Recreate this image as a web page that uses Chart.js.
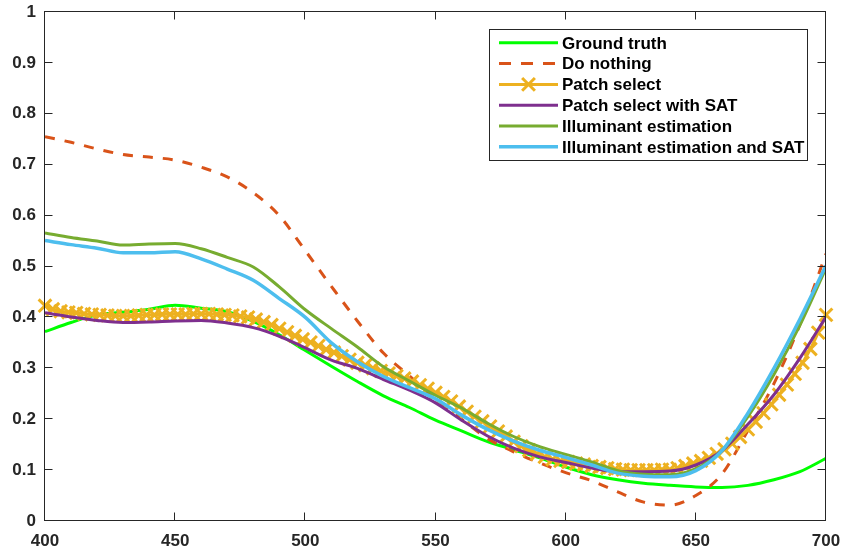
<!DOCTYPE html>
<html>
<head>
<meta charset="utf-8">
<script src="https://cdn.jsdelivr.net/npm/chart.js@4"></script>
<style>
html,body{margin:0;padding:0;background:#fff;}
#wrap{width:845px;height:555px;position:relative;}
</style>
</head>
<body>
<div id="wrap"><canvas id="c" width="845" height="555"></canvas></div>
<script>
// ---- data ----
const wavelengths = [400,410,420,430,440,450,460,470,480,490,500,510,520,530,540,550,560,570,580,590,600,610,620,630,640,650,660,670,680,690,700];
const patchWavelengths = [400,403,406,409,412,415,418,421,424,427,430,433,436,439,442,445,448,451,454,457,460,463,466,469,472,475,478,481,484,487,490,493,496,499,502,505,508,511,514,517,520,523,526,529,532,535,538,541,544,547,550,553,556,559,562,565,568,571,574,577,580,583,586,589,592,595,598,601,604,607,610,613,616,619,622,625,628,631,634,637,640,643,646,649,652,655,658,661,664,667,670,673,676,679,682,685,688,691,694,697,700];

const groundTruth = [0.372,0.390,0.405,0.410,0.416,0.424,0.418,0.411,0.392,0.366,0.335,0.304,0.274,0.246,0.223,0.198,0.177,0.156,0.140,0.124,0.106,0.091,0.081,0.074,0.070,0.067,0.066,0.070,0.081,0.097,0.123];
const doNothing = [0.755,0.744,0.731,0.720,0.715,0.709,0.695,0.676,0.645,0.600,0.531,0.461,0.393,0.330,0.285,0.240,0.200,0.162,0.136,0.114,0.095,0.079,0.057,0.037,0.031,0.050,0.092,0.178,0.270,0.386,0.525];
const patchSelect = [0.423,0.416,0.412,0.410,0.409,0.407,0.406,0.405,0.404,0.403,0.403,0.403,0.404,0.405,0.405,0.406,0.406,0.406,0.406,0.407,0.407,0.407,0.406,0.405,0.404,0.402,0.400,0.396,0.391,0.385,0.378,0.371,0.364,0.357,0.351,0.344,0.337,0.331,0.324,0.317,0.311,0.306,0.300,0.295,0.290,0.285,0.280,0.274,0.267,0.260,0.252,0.244,0.235,0.225,0.215,0.205,0.196,0.186,0.176,0.166,0.156,0.147,0.139,0.132,0.126,0.121,0.118,0.116,0.113,0.111,0.108,0.106,0.104,0.102,0.101,0.100,0.100,0.100,0.100,0.101,0.101,0.104,0.108,0.113,0.118,0.124,0.132,0.141,0.152,0.165,0.180,0.195,0.212,0.229,0.248,0.268,0.289,0.311,0.338,0.370,0.405];
const patchSelectSAT = [0.409,0.401,0.394,0.390,0.391,0.393,0.394,0.389,0.380,0.363,0.340,0.316,0.300,0.278,0.257,0.232,0.198,0.167,0.143,0.126,0.115,0.104,0.097,0.097,0.098,0.110,0.138,0.190,0.248,0.320,0.401];
const illumEst = [0.566,0.557,0.550,0.542,0.544,0.545,0.535,0.518,0.499,0.460,0.415,0.378,0.342,0.303,0.275,0.247,0.222,0.192,0.166,0.146,0.131,0.116,0.099,0.092,0.091,0.103,0.138,0.205,0.288,0.385,0.497];
const illumEstSAT = [0.551,0.543,0.536,0.527,0.527,0.529,0.515,0.495,0.473,0.437,0.400,0.350,0.313,0.284,0.262,0.240,0.208,0.180,0.157,0.139,0.125,0.110,0.094,0.088,0.087,0.099,0.138,0.212,0.300,0.397,0.502];

const seriesNames = ['Ground truth','Do nothing','Patch select','Patch select with SAT','Illuminant estimation','Illuminant estimation and SAT'];
const xTickLabels = ['400','450','500','550','600','650','700'];
const yTickLabels = ['0','0.1','0.2','0.3','0.4','0.5','0.6','0.7','0.8','0.9','1'];

// ---- build ----
const pts = (xs, ys) => xs.map((x, i) => ({x: x, y: ys[i]}));
const FONT = '"Liberation Sans", Arial, Helvetica, sans-serif';
const AXIS_COLOR = '#262626';

const datasets = [
  {label: seriesNames[0], data: pts(wavelengths, groundTruth), borderColor: '#00FF00', borderWidth: 3, order: 6},
  {label: seriesNames[1], data: pts(wavelengths, doNothing), borderColor: '#D95319', borderWidth: 3, borderDash: [10, 10], order: 5},
  {label: seriesNames[2], data: pts(patchWavelengths, patchSelect), borderColor: '#EDB120', borderWidth: 3,
    pointStyle: 'crossRot', pointRadius: 9, pointBorderWidth: 3, pointBorderColor: '#EDB120', pointBackgroundColor: '#EDB120', clip: false, order: 4},
  {label: seriesNames[3], data: pts(wavelengths, patchSelectSAT), borderColor: '#7E2F8E', borderWidth: 3, order: 3},
  {label: seriesNames[4], data: pts(wavelengths, illumEst), borderColor: '#77AC30', borderWidth: 3, order: 2},
  {label: seriesNames[5], data: pts(wavelengths, illumEstSAT), borderColor: '#4DBEEE', borderWidth: 3.5, order: 1}
];
datasets.forEach(d => {
  d.fill = false;
  d.cubicInterpolationMode = 'monotone';
  if (!d.pointStyle) d.pointRadius = 0;
});

const axesBox = {
  id: 'axesBox',
  afterDatasetsDraw(chart) {
    const {ctx, chartArea: ca, scales} = chart;
    const L = Math.round(ca.left) - 0.5, R = Math.round(ca.right) - 0.5;
    const T = Math.round(ca.top) - 0.5, B = Math.round(ca.bottom) - 0.5;
    ctx.save();
    ctx.strokeStyle = AXIS_COLOR;
    ctx.lineWidth = 1;
    ctx.setLineDash([]);
    ctx.strokeRect(L, T, R - L, B - T);
    const tl = 8;
    ctx.beginPath();
    scales.x.ticks.forEach(t => {
      const px = Math.round(scales.x.getPixelForValue(t.value)) - 0.5;
      ctx.moveTo(px, B); ctx.lineTo(px, B - tl);
      ctx.moveTo(px, T); ctx.lineTo(px, T + tl);
    });
    scales.y.ticks.forEach(t => {
      const py = Math.round(scales.y.getPixelForValue(t.value)) - 0.5;
      ctx.moveTo(L, py); ctx.lineTo(L + tl, py);
      ctx.moveTo(R, py); ctx.lineTo(R - tl, py);
    });
    ctx.stroke();
    ctx.restore();
  },
  afterDraw(chart) {
    const ctx = chart.ctx;
    const bx = 489.5, by = 29.5, bw = 318, bh = 131;
    ctx.save();
    ctx.fillStyle = '#fff';
    ctx.fillRect(bx, by, bw, bh);
    ctx.strokeStyle = AXIS_COLOR;
    ctx.lineWidth = 1;
    ctx.strokeRect(bx, by, bw, bh);
    ctx.font = 'bold 17px ' + FONT;
    ctx.textBaseline = 'middle';
    ctx.textAlign = 'left';
    chart.data.datasets.forEach((d, i) => {
      const ly = 42.8 + i * 20.8;
      ctx.strokeStyle = d.borderColor;
      ctx.lineWidth = d.borderWidth;
      ctx.setLineDash(d.borderDash ? [12, 10] : []);
      ctx.beginPath();
      ctx.moveTo(499, ly); ctx.lineTo(558, ly);
      ctx.stroke();
      ctx.setLineDash([]);
      if (d.pointStyle === 'crossRot') {
        const r = 6.4, cx = 528.5;
        ctx.lineWidth = 3;
        ctx.beginPath();
        ctx.moveTo(cx - r, ly - r); ctx.lineTo(cx + r, ly + r);
        ctx.moveTo(cx - r, ly + r); ctx.lineTo(cx + r, ly - r);
        ctx.stroke();
      }
      ctx.fillStyle = '#000';
      ctx.fillText(d.label, 562, 44 + i * 20.8);
    });
    ctx.restore();
  }
};

new Chart(document.getElementById('c'), {
  type: 'line',
  data: {datasets: datasets},
  options: {
    responsive: false,
    animation: false,
    devicePixelRatio: 1,
    layout: {padding: {left: 0, right: 19, top: 11, bottom: 0}},
    plugins: {legend: {display: false}, tooltip: {enabled: false}},
    elements: {line: {borderJoinStyle: 'round', borderCapStyle: 'butt'}},
    scales: {
      x: {
        type: 'linear', min: 400, max: 700,
        grid: {display: false, drawTicks: false},
        border: {display: false},
        ticks: {
          stepSize: 50, autoSkip: false, maxRotation: 0, padding: 10,
          color: AXIS_COLOR, font: {family: FONT, size: 17, weight: 'bold'},
          callback: (v, i) => xTickLabels[i]
        },
        afterFit: s => { s.height = 34; s.paddingLeft = 0; s.paddingRight = 0; s.paddingTop = 0; s.paddingBottom = 0; }
      },
      y: {
        type: 'linear', min: 0, max: 1,
        grid: {display: false, drawTicks: false},
        border: {display: false},
        ticks: {
          stepSize: 0.1, autoSkip: false, padding: 9,
          color: AXIS_COLOR, font: {family: FONT, size: 17, weight: 'bold'},
          callback: (v, i) => yTickLabels[i]
        },
        afterFit: s => { s.width = 45; s.paddingLeft = 0; s.paddingRight = 0; s.paddingTop = 0; s.paddingBottom = 0; }
      }
    }
  },
  plugins: [axesBox]
});
</script>
</body>
</html>
